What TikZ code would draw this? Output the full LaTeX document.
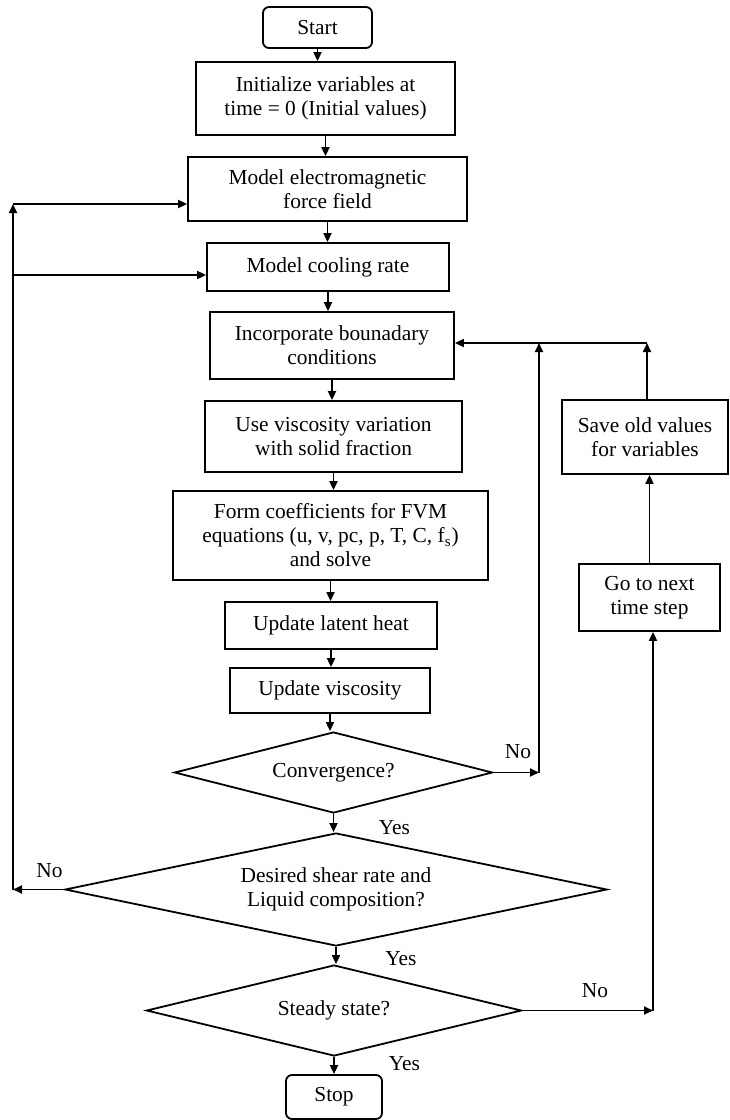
\documentclass[tikz,border=0pt]{standalone}
\usepackage{fontspec}
\setmainfont{Liberation Serif}
\usetikzlibrary{shapes.geometric, arrows.meta}

\begin{document}
\begin{tikzpicture}[
    x=0.5pt, y=-0.5pt,
    box/.style={draw, line width=0.9pt, inner sep=0pt, align=center, font=\fontsize{10.7}{12}\selectfont},
    term/.style={box, rounded corners=3pt},
    decision/.style={box, diamond, aspect=4},
    lbl/.style={font=\fontsize{10.7}{12}\selectfont},
    arrow/.style={-{Triangle[length=4.5pt, width=4pt]}, line width=0.9pt}
]
    \useasboundingbox (0,0) rectangle (729,1120);

    \node[term, minimum width=54.5pt, minimum height=20.5pt] (start) at (317.5,27.5) {Start};
    \node[box, minimum width=129.5pt, minimum height=36.5pt] (init) at (325.5,98.5) {Initialize variables at\\time = 0 (Initial values)};
    \node[box, minimum width=139.5pt, minimum height=32pt] (emfield) at (327.5,189) {Model electromagnetic\\force field};
    \node[box, minimum width=121pt, minimum height=24pt] (cooling) at (328,267) {Model cooling rate};
    \node[box, minimum width=122pt, minimum height=33.5pt] (bound) at (332,345.5) {Incorporate bounadary\\conditions};
    \node[box, minimum width=128.5pt, minimum height=35.5pt] (viscvar) at (333.5,436.5) {Use viscosity variation\\with solid fraction};
    \node[box, minimum width=157.5pt, minimum height=44.5pt] (coeff) at (330.5,535.5) {Form coefficients for FVM\\equations (u, v, pc, p, T, C, f\textsubscript{s})\\and solve};
    \node[box, minimum width=106pt, minimum height=23.5pt] (latent) at (331,625.5) {Update latent heat};
    \node[box, minimum width=100pt, minimum height=22.5pt] (updvisc) at (330,690.5) {Update viscosity};
    \node[decision, minimum width=159pt, minimum height=40.5pt] (conv) at (333.5,772.5) {Convergence?};
    \node[decision, aspect=4.8, minimum width=271pt, minimum height=56.5pt] (shear) at (336,889.5) {Desired shear rate and\\Liquid composition?};
    \node[decision, minimum width=187.5pt, minimum height=45.5pt] (steady) at (334,1010.5) {Steady state?};
    \node[term, minimum width=48pt, minimum height=22pt] (stop) at (334,1097) {Stop};
    \node[box, minimum width=83pt, minimum height=37pt] (saveold) at (645,437) {Save old values\\for variables};
    \node[box, minimum width=70.5pt, minimum height=33.5pt] (nextstep) at (649.5,597.5) {Go to next\\time step};

    \node[lbl] (noconv) at (518,752) {No};
    \node[lbl] (yesconv) at (394.5,828) {Yes};
    \node[lbl] (noshear) at (49.5,871) {No};
    \node[lbl] (yesshear) at (401,959) {Yes};
    \node[lbl] (nosteady) at (595,991) {No};
    \node[lbl] (yessteady) at (404.5,1064) {Yes};

    \coordinate (lbot) at (13,889.5);
    \coordinate (lmid) at (13,275);
    \coordinate (ltop) at (13,204);
    \coordinate (cright) at (539,772.5);
    \coordinate (ctop) at (539,343);
    \coordinate (jsave) at (647,343);
    \coordinate (sright) at (653,1010.5);

    \draw[arrow] (start.south) -- (start.south |- init.north);
    \draw[arrow] (init.south) -- (init.south |- emfield.north);
    \draw[arrow] (emfield.south) -- (emfield.south |- cooling.north);
    \draw[arrow] (cooling.south) -- (cooling.south |- bound.north);
    \draw[arrow] (bound.south) -- (bound.south |- viscvar.north);
    \draw[arrow] (viscvar.south) -- (viscvar.south |- coeff.north);
    \draw[arrow] (coeff.south) -- (coeff.south |- latent.north);
    \draw[arrow] (latent.south) -- (latent.south |- updvisc.north);
    \draw[arrow] (updvisc.south) -- (updvisc.south |- conv.north);
    \draw[arrow] (conv.south) -- (conv.south |- shear.north);
    \draw[arrow] (shear.south) -- (shear.south |- steady.north);
    \draw[arrow] (steady.south) -- (steady.south |- stop.north);

    \draw[arrow] (shear.west) -- (lbot);
    \draw[arrow] (lbot) -- (ltop);
    \draw[arrow] (ltop) -- (ltop -| emfield.west);
    \draw[arrow] (lmid) -- (lmid -| cooling.west);

    \draw[arrow] (conv.east) -- (cright);
    \draw[arrow] (cright) -- (ctop);
    \draw[arrow] (saveold.north -| jsave) -- (jsave);
    \draw[arrow] (jsave) -- (jsave -| bound.east);

    \draw[arrow] (nextstep.north) -- (nextstep.north |- saveold.south);
    \draw[arrow] (steady.east) -- (sright);
    \draw[arrow] (sright) -- (sright |- nextstep.south);
\end{tikzpicture}
\end{document}
